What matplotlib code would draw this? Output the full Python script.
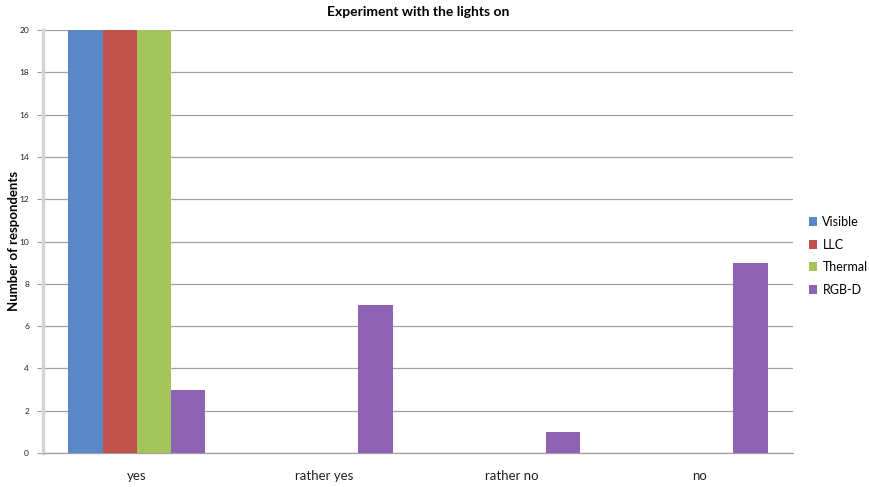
import matplotlib
matplotlib.use('Agg')
import matplotlib.pyplot as plt
import numpy as np

plt.rcParams['font.family'] = ['Lato', 'DejaVu Sans']

categories = ['yes', 'rather yes', 'rather no', 'no']
series_names = ['Visible', 'LLC', 'Thermal', 'RGB-D']
visible = [20, 0, 0, 0]
llc = [20, 0, 0, 0]
thermal = [20, 0, 0, 0]
rgbd = [3, 7, 1, 9]
colors = ['#5A88C6', '#C0524E', '#A5C55C', '#8E63B4']

fig = plt.figure(figsize=(8.7, 4.87), dpi=100)
ax = fig.add_axes([0.0494, 0.0698, 0.862, 0.8686])

x = np.arange(len(categories))
width = 0.1825
all_series = [visible, llc, thermal, rgbd]
for i, (vals, name, col) in enumerate(zip(all_series, series_names, colors)):
    ax.bar(x + (i - 1.5) * width, vals, width, color=col, label=name, zorder=3)

ax.set_xlim(-0.5, len(categories) - 0.5)
ax.set_ylim(0, 20)
ax.set_yticks(np.arange(0, 21, 2))
ax.set_xticks(x)
ax.set_xticklabels(categories, fontsize=9.5, color='#222222')
ax.tick_params(axis='y', labelsize=6, length=4, color='#A0A0A0', pad=6, labelcolor='#222222')
ax.tick_params(axis='x', length=0, pad=12)
ax.grid(axis='y', color='#A0A0A0', linewidth=0.9, zorder=0)

for side in ['top', 'right']:
    ax.spines[side].set_visible(False)
ax.spines['left'].set_color('#D4D4D4')
ax.spines['left'].set_linewidth(2.5)
ax.spines['bottom'].set_color('#A0A0A0')
ax.spines['bottom'].set_linewidth(0.9)

ax.set_title('Experiment with the lights on', fontsize=10, fontweight='bold', pad=10)
# y label placed by hand so it stays inside the figure
fig.text(14 / 870, 1 - 241 / 487, 'Number of respondents', fontsize=9.5, fontweight='bold',
         rotation=90, ha='center', va='center')

ax.legend(loc='center left', bbox_to_anchor=(1.006, 0.466), frameon=False, fontsize=9,
          handlelength=0.7, handleheight=0.7, handletextpad=0.4, labelspacing=0.85)

fig.savefig('out.png', dpi=100)
